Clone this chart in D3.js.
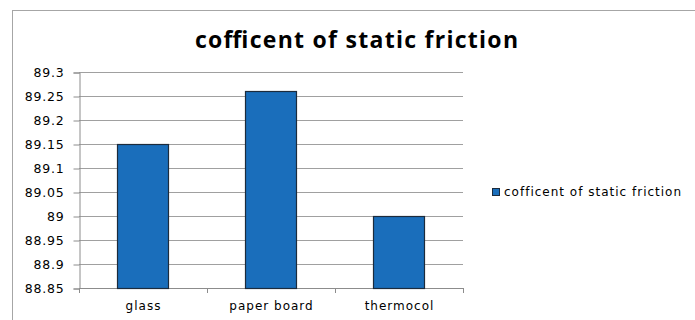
<!DOCTYPE html>
<html><head><meta charset="utf-8">
<script src="https://cdn.jsdelivr.net/npm/d3@7"></script>
<style>
html,body{margin:0;padding:0;background:#fff;}
svg{display:block;}
text{font-family:"DejaVu Sans",sans-serif;fill:#000;}
</style></head>
<body>
<svg id="chart" width="695" height="320"></svg>
<script>
const categories = ["glass", "paper board", "thermocol"];
const values = [89.15, 89.26, 89.0];
const seriesName = "cofficent of static friction";
const chartTitle = "cofficent of static friction";
const yTicks = [88.85, 88.9, 88.95, 89.0, 89.05, 89.1, 89.15, 89.2, 89.25, 89.3];

const svg = d3.select("#chart");
const W = 695, H = 320;
const plot = {left: 79, right: 463, top: 72, bottom: 288};

// outer chart border (top and left visible)
svg.append("rect").attr("x", 12.5).attr("y", 10.5).attr("width", W).attr("height", H)
  .attr("fill", "none").attr("stroke", "#a6a6a6").attr("stroke-width", 1);

const x = d3.scaleBand().domain(categories).range([plot.left, plot.right]).paddingInner(0.6).paddingOuter(0.3);
const y = d3.scaleLinear().domain([88.85, 89.3]).range([plot.bottom, plot.top]);

// gridlines
svg.append("g").selectAll("line").data(yTicks.slice(1)).join("line")
  .attr("x1", plot.left).attr("x2", plot.right)
  .attr("y1", d => Math.round(y(d)) + 0.5).attr("y2", d => Math.round(y(d)) + 0.5)
  .attr("stroke", "#a0a0a0").attr("stroke-width", 1);

// y axis
const yAxis = d3.axisLeft(y).tickValues(yTicks).tickSize(6).tickPadding(9)
  .tickFormat(d => String(+d.toFixed(2)));
const gy = svg.append("g").attr("transform", `translate(${plot.left + 0.5},0.5)`).call(yAxis);
gy.select(".domain").attr("stroke", "#8c8c8c");
gy.selectAll(".tick line").attr("stroke", "#8c8c8c");
gy.selectAll(".tick text").style("font-size", "12.5px").style("letter-spacing", "0.8px").attr("fill", "#000");

// x axis
const xEdges = d3.scalePoint().domain(d3.range(categories.length + 1)).range([plot.left, plot.right]);
const gx = svg.append("g");
gx.append("line").attr("x1", plot.left).attr("x2", plot.right)
  .attr("y1", plot.bottom + 0.5).attr("y2", plot.bottom + 0.5).attr("stroke", "#8c8c8c");
gx.selectAll("line.tk").data(d3.range(categories.length + 1)).join("line").attr("class", "tk")
  .attr("x1", d => Math.round(xEdges(d)) + 0.5).attr("x2", d => Math.round(xEdges(d)) + 0.5)
  .attr("y1", plot.bottom).attr("y2", plot.bottom + 5).attr("stroke", "#8c8c8c");
gx.selectAll("text").data(categories).join("text")
  .attr("x", d => x(d) + x.bandwidth() / 2 + 0.5).attr("y", 310)
  .attr("text-anchor", "middle").style("font-size", "12px").style("letter-spacing", "1px")
  .text(d => d);

// bars
svg.append("g").selectAll("rect").data(categories).join("rect")
  .attr("x", d => Math.round(x(d)) + 0.5)
  .attr("y", (d, i) => Math.round(y(values[i])) + 0.5)
  .attr("width", Math.round(x.bandwidth()))
  .attr("height", (d, i) => Math.round(y(88.85)) - Math.round(y(values[i])))
  .attr("fill", "#1a6ebb").attr("stroke", "#1c2b3c").attr("stroke-width", 1.2);

// title
svg.append("text").attr("x", 195).attr("y", 48)
  .attr("textLength", 323).attr("lengthAdjust", "spacing")
  .style("font-size", "23px").style("font-weight", "bold").style("font-family", "'Open Sans',sans-serif")
  .text(chartTitle);

// legend
const lg = svg.append("g");
lg.append("rect").attr("x", 492.5).attr("y", 188.5).attr("width", 7).attr("height", 7)
  .attr("fill", "#1a6ebb").attr("stroke", "#1c2b3c");
lg.append("text").attr("x", 504).attr("y", 196).style("font-size", "12px").style("letter-spacing", "1px")
  .text(seriesName);
</script>
</body></html>
